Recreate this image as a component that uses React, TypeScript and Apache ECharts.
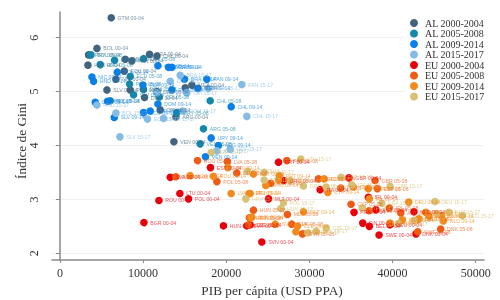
import React, { useEffect, useRef } from "react";
import * as echarts from "echarts";

type Pt = [number, number, string];

const xTicks = [0, 10000, 20000, 30000, 40000, 50000];
const yTicks = [2, 3, 4, 5, 6];

const al0004: Pt[] = [
  [6166, 6.37, "GTM 00-04"], [4447, 5.8, "BOL 00-04"], [3440, 5.68, "PRY 00-04"], [3365, 5.49, "HND 00-04"],
  [7850, 5.6, "COL 00-04"], [8650, 5.57, "PAN 00-04"], [10770, 5.69, "BRA 00-04"], [11660, 5.66, "CHL 00-04"],
  [7730, 5.38, "ECU 00-04"], [6730, 5.23, "NIC 00-04"], [5650, 5.03, "SLV 00-04"], [8450, 5.03, "PER 00-04"],
  [10170, 4.89, "DOM 00-04"], [12055, 4.66, "CRI 00-04"], [13940, 4.53, "ARG 00-04"], [15060, 5.07, "MEX 00-04"],
  [15865, 5.12, "MEX 00-04"], [13700, 4.07, "VEN 00-04"], [11660, 5.0, "URY 00-04"],
];
const al0508: Pt[] = [
  [3725, 5.68, "BOL 05-08"], [4845, 5.5, "HND 05-08"], [6565, 5.58, "PRY 05-08"], [10050, 5.61, "COL 05-08"],
  [8450, 5.28, "ECU 05-08"], [8370, 5.14, "PER 05-08"], [10050, 5.04, "DOM 05-08"], [8850, 4.94, "SLV 05-08"],
  [11935, 4.9, "CRI 05-08"], [14060, 4.61, "URY 05-08"], [18065, 4.83, "CHL 05-08"], [17260, 4.31, "ARG 05-08"],
  [16860, 4.03, "VEN 05-08"], [6045, 4.83, "NIC 05-08"],
];
const al0914: Pt[] = [
  [3845, 5.27, "NIC 09-14"], [4040, 5.19, "HND 09-14"], [6890, 5.36, "BOL 09-14"], [11780, 5.48, "COL 09-14"],
  [13055, 5.45, "BRA 09-14"], [13460, 5.45, "CRI 09-14"], [14980, 5.23, "BRA 09-14"], [17670, 5.23, "PAN 09-14"],
  [9975, 5.12, "PER 09-14"], [13460, 5.03, "ECU 09-14"], [16590, 5.06, "MEX 09-14"], [20590, 4.72, "CHL 09-14"],
  [11780, 4.77, "DOM 09-14"], [4245, 4.8, "GTM 09-14"], [5720, 4.82, "PRY 09-14"], [10050, 4.61, "ECU 09-14"],
  [10850, 4.64, "PER 09-14"], [6525, 4.52, "SLV 09-14"], [18185, 4.14, "URY 09-14"], [19060, 4.0, "ARG 09-14"],
  [17500, 3.79, "VEN 09-14"],
];
const al1517: Pt[] = [
  [4447, 4.75, "HND 15-17"], [6730, 4.6, "BOL 15-17"], [10530, 4.49, "ECU 15-17"], [12450, 4.5, "PER 15-17"],
  [14780, 4.64, "DOM 15-17"], [7210, 4.16, "SLV 15-17"], [13260, 5.19, "COL 15-17"], [14460, 5.3, "BRA 15-17"],
  [11660, 4.98, "PRY 15-17"], [15260, 4.98, "CRI 15-17"], [21875, 5.13, "PAN 15-17"], [17860, 5.06, "MEX 15-17"],
  [22475, 4.54, "CHL 15-17"], [20470, 3.93, "URY 15-17"], [18870, 3.9, "ARG 15-17"],
];
const eu0004: Pt[] = [
  [10100, 2.57, "BGR 00-04"], [11900, 2.98, "ROU 00-04"], [14420, 3.11, "LTU 00-04"], [15460, 3.01, "POL 00-04"],
  [13260, 3.41, "LVA 00-04"], [19665, 2.51, "HUN 00-04"], [18100, 3.59, "EST 00-04"], [22475, 2.51, "SVK 00-04"],
  [26280, 3.69, "PRT 00-04"], [24280, 2.21, "SVN 00-04"], [25080, 3.01, "MLT 00-04"], [26880, 3.35, "GRC 00-04"],
  [31290, 3.18, "ITA 00-04"], [34770, 3.4, "GBR 00-04"], [37090, 3.04, "IRL 00-04"], [35370, 2.76, "FRA 00-04"],
  [38000, 2.81, "AUT 00-04"], [36420, 2.56, "FIN 00-04"], [37210, 2.5, "BEL 00-04"], [38380, 2.34, "SWE 00-04"],
  [39700, 2.53, "DEU 00-04"], [42580, 2.77, "NLD 00-04"], [42820, 2.36, "DNK 00-04"], [22870, 2.53, "CZE 00-04"],
];
const eu0508: Pt[] = [
  [16540, 3.72, "ROU 05-08"], [20140, 3.7, "LVA 05-08"], [13940, 3.42, "BGR 05-08"], [18870, 3.33, "POL 05-08"],
  [21270, 3.49, "LTU 05-08"], [22670, 2.53, "CZE 05-08"], [27280, 3.72, "PRT 05-08"], [23270, 2.8, "HUN 05-08"],
  [27360, 2.72, "MLT 05-08"], [25360, 3.3, "EST 05-08"], [31090, 3.38, "GRC 05-08"], [33770, 3.21, "ITA 05-08"],
  [37900, 3.35, "GBR 05-08"], [38170, 3.2, "ESP 05-08"], [35010, 2.91, "CYP 05-08"], [37180, 2.79, "FRA 05-08"],
  [39620, 2.84, "IRL 05-08"], [40990, 2.75, "AUT 05-08"], [43100, 2.63, "BEL 05-08"], [43030, 2.4, "SWE 05-08"],
  [45790, 2.45, "DNK 05-08"], [27880, 2.54, "SVK 05-08"], [29170, 2.36, "SVN 05-08"], [22790, 2.66, "HRV 05-08"],
];
const eu0914: Pt[] = [
  [15660, 3.44, "BGR 09-14"], [18460, 3.43, "ROU 09-14"], [20190, 3.59, "HRV 09-14"], [20590, 3.11, "LVA 09-14"],
  [22750, 3.11, "LTU 09-14"], [22960, 2.66, "HUN 09-14"], [23270, 3.47, "EST 09-14"], [24760, 3.26, "GRC 09-14"],
  [26395, 3.44, "PRT 09-14"], [26280, 3.36, "POL 09-14"], [22870, 3.11, "PRL 09-14"], [23080, 2.67, "SVK 09-14"],
  [25880, 2.54, "SVN 09-14"], [29280, 2.77, "MLT 09-14"], [28560, 2.5, "CZE 09-14"], [28370, 2.4, "SVN 09-14"],
  [31770, 3.38, "ESP 09-14"], [32210, 3.13, "CYP 09-14"], [35290, 3.23, "ITA 09-14"], [37090, 3.2, "GBR 09-14"],
  [37210, 3.01, "IRL 09-14"], [41950, 2.95, "DEU 09-14"], [39700, 2.56, "FIN 09-14"], [41180, 2.62, "FRA 09-14"],
  [43990, 2.76, "BEL 09-14"], [44390, 2.69, "AUT 09-14"], [43190, 2.64, "SWE 09-14"], [46110, 2.6, "NLD 09-14"],
  [45910, 2.7, "DNK 09-14"],
];
const eu1517: Pt[] = [
  [28970, 3.75, "LTU 15-17"], [24560, 3.5, "LVA 15-17"], [24560, 3.36, "EST 15-17"], [27680, 3.35, "PRT 15-17"],
  [29280, 3.25, "GRC 15-17"], [33810, 3.41, "ESP 15-17"], [32010, 3.23, "EST 15-17"], [35100, 3.27, "ITA 15-17"],
  [39700, 3.24, "GBR 15-17"], [38700, 2.93, "KRA 15-17"], [45110, 2.96, "DEU 15-17"], [26880, 2.94, "POL 15-17"],
  [26560, 2.83, "HUN 15-17"], [36370, 2.84, "CYP 15-17"], [22350, 3.01, "HRV 15-17"], [18190, 3.87, "BGR 15-17"],
  [22550, 3.52, "ROU 15-17"], [32010, 2.47, "CZE 15-17"], [30810, 2.41, "SVK 15-17"], [29810, 2.38, "SVN 15-17"],
  [40700, 2.55, "FIN 15-17"], [42590, 2.61, "BEL 15-17"], [45300, 2.73, "FRA 15-17"], [46790, 2.76, "AUT 15-17"],
  [48390, 2.7, "NLD 15-17"],
];

const seriesDefs: [string, string, Pt[]][] = [
  ["AL 2000-2004", "#43647f", al0004],
  ["AL 2005-2008", "#1488ab", al0508],
  ["AL 2009-2014", "#0a7fe6", al0914],
  ["AL 2015-2017", "#85bce6", al1517],
  ["EU 2000-2004", "#e8000b", eu0004],
  ["EU 2005-2008", "#ef5a15", eu0508],
  ["EU 2009-2014", "#f28a1c", eu0914],
  ["EU 2015-2017", "#d8c074", eu1517],
];

const SERIF = "'Liberation Serif', serif";
const SANS = "'Liberation Sans', sans-serif";

export default function App() {
  const ref = useRef<HTMLDivElement>(null);
  useEffect(() => {
    const chart = echarts.init(ref.current!, undefined, { renderer: "svg" });
    chart.setOption({
      animation: false,
      backgroundColor: "#ffffff",
      grid: { left: 52, right: 16, top: 12, bottom: 40, outerBoundsMode: "none" },
      legend: {
        orient: "vertical",
        left: 405,
        top: 14,
        padding: [4, 10, 6, 5],
        backgroundColor: "#ffffff",
        itemWidth: 8,
        itemHeight: 8,
        itemGap: 0.5,
        icon: "circle",
        textStyle: { fontFamily: SERIF, fontSize: 10, color: "#333", padding: [0, 0, 0, 2], lineHeight: 10 },
      },
      xAxis: {
        type: "value",
        min: -960,
        max: 51000,
        name: "PIB per cápita (USD PPA)",
        nameLocation: "middle",
        nameGap: 24,
        nameMoveOverlap: false,
        nameTextStyle: { fontFamily: SERIF, fontSize: 13.3, color: "#333", padding: [0, 0, 0, 8] },
        axisLine: { show: true, lineStyle: { color: "#8a8a8a", width: 1.5 } },
        axisTick: { show: true, length: 3, customValues: xTicks, lineStyle: { color: "#8a8a8a" } },
        axisLabel: {
          customValues: xTicks,
          formatter: (v: number) => String(v),
          fontFamily: SERIF,
          fontSize: 12,
          color: "#333",
          margin: 7,
        },
        splitLine: { show: false },
      },
      yAxis: {
        type: "value",
        min: 1.876,
        max: 6.476,
        name: "Índice de Gini",
        nameLocation: "middle",
        nameGap: 24,
        nameMoveOverlap: false,
        nameTextStyle: { fontFamily: SERIF, fontSize: 13.3, color: "#333", padding: [0, 10, 0, 0] },
        axisLine: { show: true, lineStyle: { color: "#8a8a8a", width: 1.5 } },
        axisTick: { show: true, length: 4, customValues: yTicks, lineStyle: { color: "#8a8a8a" } },
        axisLabel: { customValues: yTicks, fontFamily: SERIF, fontSize: 12, color: "#333", rotate: 90, margin: 12 },
        splitLine: { show: true, lineStyle: { color: "#f0f0f0", width: 1 } },
      },
      series: seriesDefs.map(([name, color, data]) => ({
        name,
        type: "scatter",
        data,
        symbolSize: 7.6,
        itemStyle: { color, opacity: 1 },
        label: {
          show: true,
          position: "right",
          distance: 2.5,
          formatter: (p: any) => p.value[2],
          fontFamily: SANS,
          fontSize: 5.2,
          color,
          opacity: 0.7,
        },
      })),
    });
    return () => chart.dispose();
  }, []);
  return (
    <div
      ref={ref}
      style={{ position: "fixed", left: 0, top: 0, width: 500, height: 300, filter: "blur(0.5px)" }}
    />
  );
}
